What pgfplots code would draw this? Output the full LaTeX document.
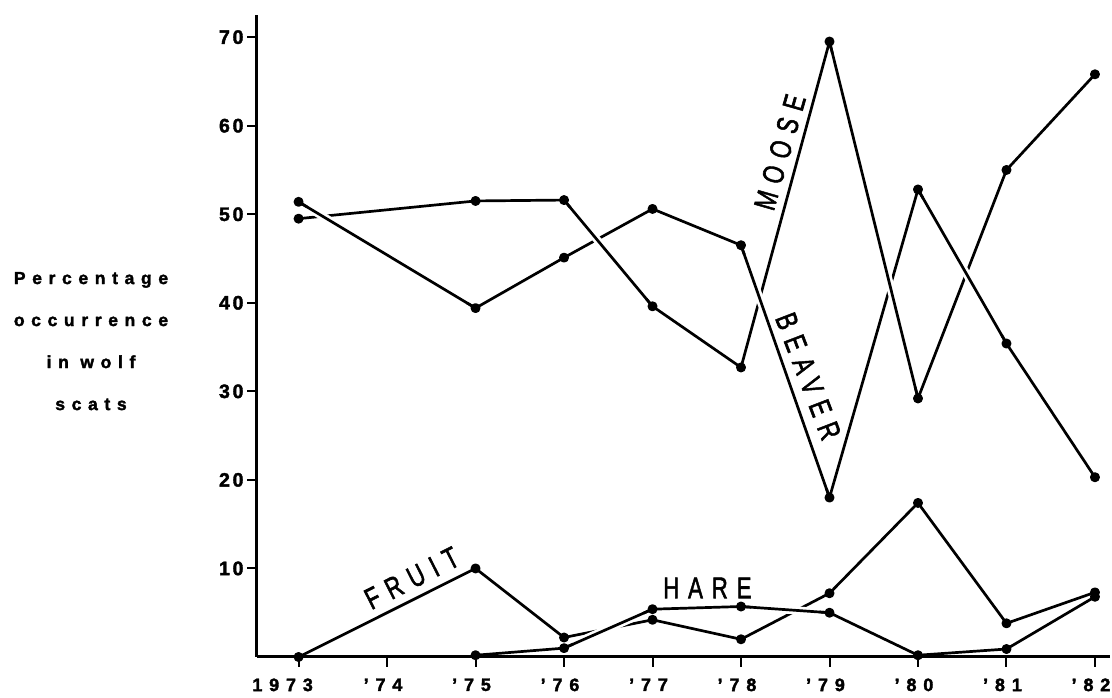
\documentclass[border=0pt]{standalone}
\usepackage{fontspec}
\setmainfont{Liberation Sans}
\newfontfamily\ytfont[LetterSpace=14,FakeBold=2]{Liberation Sans Bold}
\newfontfamily\xtfont[LetterSpace=38,FakeBold=2]{Liberation Sans Bold}
\newfontfamily\ylfont[LetterSpace=38,FakeBold=2]{Liberation Sans Bold}
\newfontfamily\crfont[LetterSpace=40,FakeBold=2]{Liberation Sans}
\usepackage{graphicx}
\usepackage{pgfplots}
\pgfplotsset{compat=1.18}
\begin{document}
\begin{tikzpicture}
\path[use as bounding box] (0,0) rectangle (1112pt,698pt);
\begin{axis}[
  at={(257pt,41pt)}, anchor=south west,
  scale only axis, width=853pt, height=642pt,
  xmin=1972.53, xmax=1982.17, ymin=0, ymax=72.5,
  axis x line=bottom, axis y line=left,
  axis line style={line width=3pt, -},
  xtick={1973,1974,1975,1976,1977,1978,1979,1980,1981,1982},
  xticklabels={\kern-24pt 1973,’74,’75,’76,’77,’78,’79,’80,’81,’82},
  ytick={10,20,30,40,50,60,70},
  yticklabels={10,20,30,40,50,60,70},
  tick align=outside,
  major tick length=10pt,
  every tick/.style={black, line width=2pt},
  xticklabel style={font=\xtfont\fontsize{18}{20}\selectfont, yshift=-8pt, xshift=-4pt},
  yticklabel style={font=\ytfont\fontsize{19.5}{22}\selectfont},
  ylabel={Percentage\\occurrence\\in wolf\\scats},
  ylabel style={rotate=-90, at={(axis description cs:-0.1946,0.492)}, anchor=center, align=center, font=\ylfont\fontsize{17.5}{42}\selectfont},
  clip=false,
  every axis plot/.append style={black, line width=2.7pt, line join=round},
]
% MOOSE
\addplot[mark=*, mark size=3.6pt] coordinates {(1973,49.5) (1975,51.5) (1976,51.6) (1977,39.6) (1978,32.7) (1979,69.5) (1980,29.2) (1981,55.0) (1982,65.8)};
% BEAVER
\addplot[mark=*, mark size=3.6pt] coordinates {(1973,51.4) (1975,39.4) (1976,45.1) (1977,50.6) (1978,46.5) (1979,18.0) (1980,52.8) (1981,35.4) (1982,20.3)};
% FRUIT
\addplot[mark=*, mark size=3.6pt] coordinates {(1973,0) (1975,10.0) (1976,2.2) (1977,4.2) (1978,2.0) (1979,7.2) (1980,17.4) (1981,3.8) (1982,7.3)};
% HARE
\addplot[mark=*, mark size=3.6pt] coordinates {(1975,0.2) (1976,1.0) (1977,5.4) (1978,5.7) (1979,5.0) (1980,0.2) (1981,0.9) (1982,6.8)};
% crossings: segment on top, with a white gap in the line underneath
\addplot[no marks, preaction={draw=white, line width=8pt, shorten <=10pt, shorten >=10pt}] coordinates {(1973,51.4) (1975,39.4)};
\addplot[no marks, preaction={draw=white, line width=8pt, shorten <=10pt, shorten >=10pt}] coordinates {(1976,51.6) (1977,39.6)};
\addplot[no marks, preaction={draw=white, line width=8pt, shorten <=10pt, shorten >=10pt}] coordinates {(1978,46.5) (1979,18.0)};
\addplot[no marks, preaction={draw=white, line width=8pt, shorten <=12pt, shorten >=12pt}] coordinates {(1979,69.5) (1980,29.2)};
\addplot[no marks, preaction={draw=white, line width=8pt, shorten <=10pt, shorten >=10pt}] coordinates {(1980,52.8) (1981,35.4)};
\addplot[no marks, preaction={draw=white, line width=8pt, shorten <=10pt, shorten >=10pt}] coordinates {(1976,1.0) (1977,5.4)};
\addplot[no marks, preaction={draw=white, line width=8pt, shorten <=10pt, shorten >=10pt}] coordinates {(1978,5.7) (1979,5.0)};
% curve names
\node[rotate=74, font=\crfont\fontsize{30}{32}\selectfont] at (axis cs:1978.44,57.0) {\scalebox{0.74}[1]{MOOSE}};
\node[rotate=-69, font=\crfont\fontsize{30}{32}\selectfont] at (axis cs:1978.76,31.7) {\scalebox{0.74}[1]{BEAVER}};
\node[rotate=27, font=\crfont\fontsize{30}{32}\selectfont] at (axis cs:1974.28,8.9) {\scalebox{0.74}[1]{FRUIT}};
\node[font=\crfont\fontsize{30}{32}\selectfont] at (axis cs:1977.62,7.8) {\scalebox{0.74}[1]{HARE}};
\end{axis}
\end{tikzpicture}
\end{document}
